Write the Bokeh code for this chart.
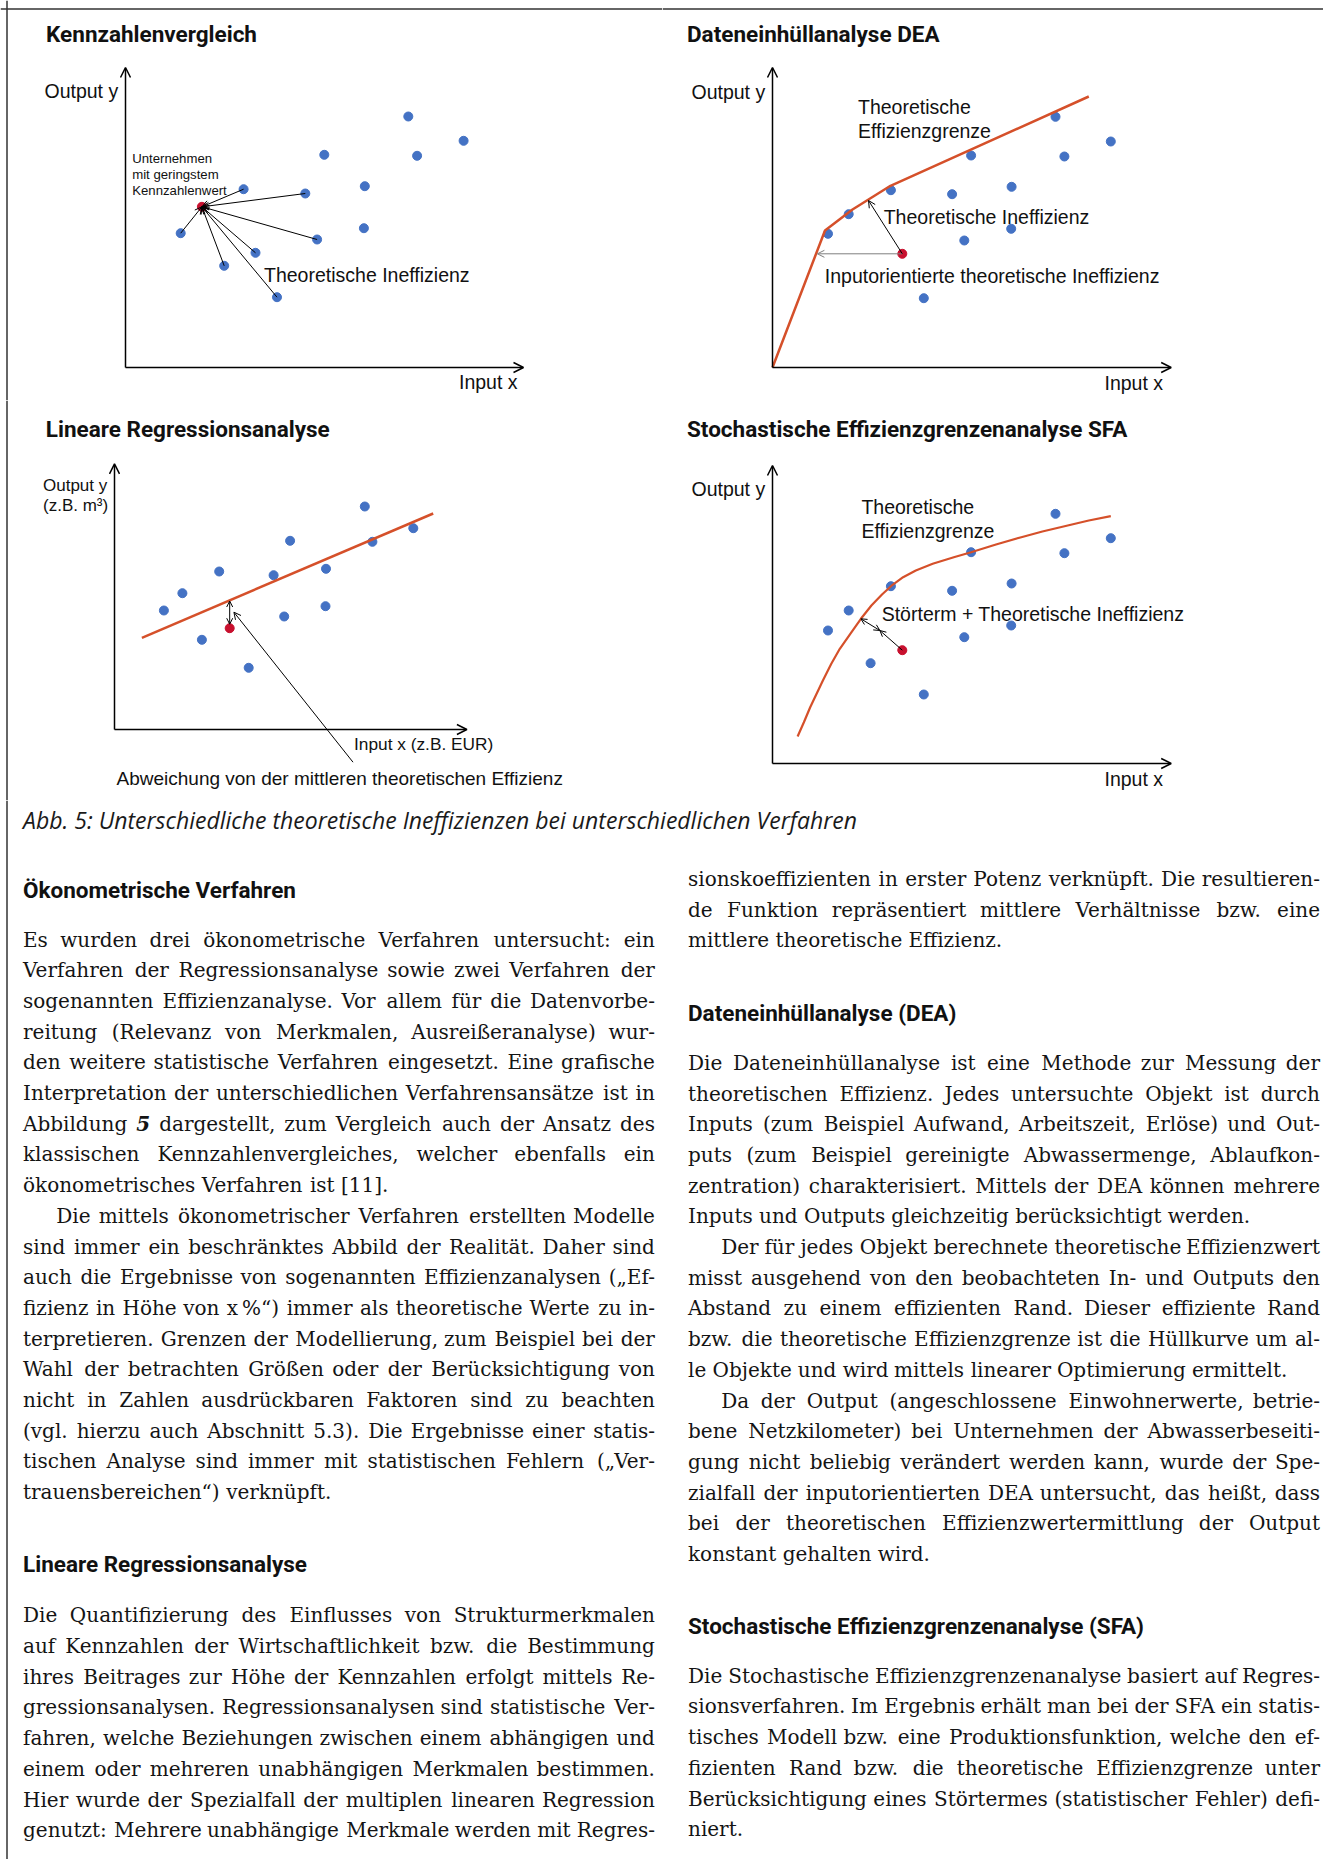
from bokeh.plotting import figure
from bokeh.layouts import column, row
from bokeh.models import Range1d, Arrow, OpenHead, ColumnDataSource, Span
from bokeh.core.properties import value
from bokeh.embed import file_html
from bokeh.resources import INLINE

# ---------------- data (arbitrary units, origin at the axis crossing) ----------------
# Panel 1: Kennzahlenvergleich
kz_x = [282.8, 338.1, 198.8, 291.6, 118.1, 179.8, 239.3, 238.4, 191.6, 130.0, 98.7, 55.2, 151.5]
kz_y = [251.0, 226.7, 212.7, 211.7, 178.3, 174.0, 181.3, 139.3, 128.0, 114.7, 101.7, 134.3, 70.3]
kz_red_x = [76.4]
kz_red_y = [160.7]
kz_arrow_from = [4, 5, 8, 9, 10, 11, 12]

# Panel 2: DEA
dea_x = [55.5, 76.2, 118.4, 179.6, 198.6, 239.1, 283.0, 291.9, 338.3, 238.7, 191.8, 151.3]
dea_y = [133.7, 153.3, 177.3, 173.3, 212.0, 180.7, 250.7, 211.0, 226.0, 138.7, 127.0, 69.3]
dea_red_x = [129.8]
dea_red_y = [113.7]
dea_front_x = [0.0, 52.5, 80.0, 118.0, 316.3]
dea_front_y = [0.0, 137.0, 158.0, 181.7, 271.0]
dea_input_target = (44.9, 113.7)
dea_radial_target = (96.0, 167.0)

# Panel 3: Lineare Regression
reg_x = [49.4, 67.9, 104.7, 87.4, 134.2, 159.1, 175.6, 169.7, 211.5, 211.0, 250.3, 257.9, 298.8]
reg_y = [119.0, 136.3, 158.0, 89.7, 61.7, 154.3, 188.7, 113.0, 160.7, 123.3, 223.0, 187.7, 201.3]
reg_red_x = [115.2]
reg_red_y = [101.3]
reg_line_x = [27.4, 318.7]
reg_line_y = [91.7, 216.0]
reg_dev = (115.2, 128.5, 105.3)          # x, y on line, y near point
reg_callout = (238.5, -32.7, 119.4, 117.3)

# Panel 4: SFA
sfa_x = [55.5, 76.2, 98.1, 118.4, 151.3, 179.6, 191.8, 198.6, 239.1, 238.7, 283.0, 291.9, 338.3]
sfa_y = [133.0, 153.0, 100.3, 177.3, 69.0, 172.7, 126.3, 211.3, 180.0, 138.0, 249.7, 210.3, 225.3]
sfa_red_x = [129.8]
sfa_red_y = [113.3]
sfa_curve_x = [25.1, 31.4, 37.7, 44.1, 50.4, 58.8, 67.3, 77.8, 88.4, 98.9, 109.5, 120.1,
               130.6, 143.3, 160.2, 181.3, 198.6, 223.5, 248.8, 269.9, 295.2, 316.3, 338.3]
sfa_curve_y = [27.0, 41.3, 56.3, 69.7, 83.0, 99.7, 114.7, 129.7, 144.7, 158.0, 169.0, 178.7,
               186.3, 193.0, 199.7, 206.3, 211.3, 219.0, 226.3, 232.0, 238.0, 243.0, 247.3]
sfa_noise = (88.4, 144.7, 107.4, 133.0)

# ---------------- texts ----------------
caption = "Abb. 5: Unterschiedliche theoretische Ineffizienzen bei unterschiedlichen Verfahren"

left_head1 = "Ökonometrische Verfahren"
left_par1 = [
    "Es wurden drei ökonometrische Verfahren untersucht: ein",
    "Verfahren der Regressionsanalyse sowie zwei Verfahren der",
    "sogenannten Effizienzanalyse. Vor allem für die Datenvorbe-",
    "reitung (Relevanz von Merkmalen, Ausreißeranalyse) wur-",
    "den weitere statistische Verfahren eingesetzt. Eine grafische",
    "Interpretation der unterschiedlichen Verfahrensansätze ist in",
    "Abbildung 5 dargestellt, zum Vergleich auch der Ansatz des",
    "klassischen Kennzahlenvergleiches, welcher ebenfalls ein",
    "ökonometrisches Verfahren ist [11].",
]
left_par2 = [
    "Die mittels ökonometrischer Verfahren erstellten Modelle",
    "sind immer ein beschränktes Abbild der Realität. Daher sind",
    "auch die Ergebnisse von sogenannten Effizienzanalysen („Ef-",
    "fizienz in Höhe von x\u2009%“) immer als theoretische Werte zu in-",
    "terpretieren. Grenzen der Modellierung, zum Beispiel bei der",
    "Wahl der betrachten Größen oder der Berücksichtigung von",
    "nicht in Zahlen ausdrückbaren Faktoren sind zu beachten",
    "(vgl. hierzu auch Abschnitt 5.3). Die Ergebnisse einer statis-",
    "tischen Analyse sind immer mit statistischen Fehlern („Ver-",
    "trauensbereichen“) verknüpft.",
]
left_head2 = "Lineare Regressionsanalyse"
left_par3 = [
    "Die Quantifizierung des Einflusses von Strukturmerkmalen",
    "auf Kennzahlen der Wirtschaftlichkeit bzw. die Bestimmung",
    "ihres Beitrages zur Höhe der Kennzahlen erfolgt mittels Re-",
    "gressionsanalysen. Regressionsanalysen sind statistische Ver-",
    "fahren, welche Beziehungen zwischen einem abhängigen und",
    "einem oder mehreren unabhängigen Merkmalen bestimmen.",
    "Hier wurde der Spezialfall der multiplen linearen Regression",
    "genutzt: Mehrere unabhängige Merkmale werden mit Regres-",
]
right_par0 = [
    "sionskoeffizienten in erster Potenz verknüpft. Die resultieren-",
    "de Funktion repräsentiert mittlere Verhältnisse bzw. eine",
    "mittlere theoretische Effizienz.",
]
right_head1 = "Dateneinhüllanalyse (DEA)"
right_par1 = [
    "Die Dateneinhüllanalyse ist eine Methode zur Messung der",
    "theoretischen Effizienz. Jedes untersuchte Objekt ist durch",
    "Inputs (zum Beispiel Aufwand, Arbeitszeit, Erlöse) und Out-",
    "puts (zum Beispiel gereinigte Abwassermenge, Ablaufkon-",
    "zentration) charakterisiert. Mittels der DEA können mehrere",
    "Inputs und Outputs gleichzeitig berücksichtigt werden.",
]
right_par2 = [
    "Der für jedes Objekt berechnete theoretische Effizienzwert",
    "misst ausgehend von den beobachteten In- und Outputs den",
    "Abstand zu einem effizienten Rand. Dieser effiziente Rand",
    "bzw. die theoretische Effizienzgrenze ist die Hüllkurve um al-",
    "le Objekte und wird mittels linearer Optimierung ermittelt.",
]
right_par3 = [
    "Da der Output (angeschlossene Einwohnerwerte, betrie-",
    "bene Netzkilometer) bei Unternehmen der Abwasserbeseiti-",
    "gung nicht beliebig verändert werden kann, wurde der Spe-",
    "zialfall der inputorientierten DEA untersucht, das heißt, dass",
    "bei der theoretischen Effizienzwertermittlung der Output",
    "konstant gehalten wird.",
]
right_head2 = "Stochastische Effizienzgrenzenanalyse (SFA)"
right_par4 = [
    "Die Stochastische Effizienzgrenzenanalyse basiert auf Regres-",
    "sionsverfahren. Im Ergebnis erhält man bei der SFA ein statis-",
    "tisches Modell bzw. eine Produktionsfunktion, welche den ef-",
    "fizienten Rand bzw. die theoretische Effizienzgrenze unter",
    "Berücksichtigung eines Störtermes (statistischer Fehler) defi-",
    "niert.",
]

# ---------------- styles ----------------
BLUE = "#4472C4"
RED = "#C8102E"
ORANGE = "#D5502A"
INK = "#111111"
FRAME = "#333333"
SANS = "Liberation Sans"
HEAD = "Roboto"
SERIF = "DejaVu Serif"
HSIZE = 22.5
LSIZE = 19.5
BORDER_X = 6.5   # page x of the left frame line
BORDER_Y = 8.5   # page y of the top frame line

# approximate advance widths of DejaVu Serif (units per em = 2048), used for justification
_ADV = {" ": 651, "a": 1221, "b": 1311, "c": 1147, "d": 1311, "e": 1212, "f": 739, "g": 1311,
        "h": 1321, "i": 655, "j": 627, "k": 1251, "l": 655, "m": 1966, "n": 1321, "o": 1233,
        "p": 1311, "q": 1311, "r": 956, "s": 1051, "t": 823, "u": 1321, "v": 1161, "w": 1686,
        "x": 1161, "y": 1161, "z": 1075, "ä": 1221, "ö": 1233, "ü": 1321, "ß": 1311,
        "A": 1479, "B": 1406, "C": 1501, "D": 1585, "E": 1403, "F": 1306, "G": 1593, "H": 1714,
        "I": 796, "J": 804, "K": 1479, "L": 1300, "M": 1918, "N": 1702, "O": 1637, "P": 1298,
        "Q": 1637, "R": 1441, "S": 1339, "T": 1298, "U": 1599, "V": 1479, "W": 2099, "X": 1470,
        "Y": 1364, "Z": 1356, "Ö": 1637, ".": 651, ",": 651, ":": 690, ";": 690, "-": 694,
        "(": 799, ")": 799, "[": 799, "]": 799, "„": 1100, "“": 1100, "%": 1946, "\u2009": 410}


def adv(s, size):
    return sum(_ADV.get(ch, 1303 if ch.isdigit() else 1200) for ch in s) / 2048.0 * size


def make_fig(w, h, xr, yr):
    p = figure(width=w, height=h, x_range=Range1d(*xr), y_range=Range1d(*yr),
               output_backend="svg", toolbar_location=None, min_border=0,
               x_axis_type=None, y_axis_type=None, outline_line_color=None,
               background_fill_color="white", border_fill_color="white", title=None)
    p.grid.visible = False
    return p


def txt(p, x, y, s, size, font=SANS, style="normal", color=INK, align="left"):
    p.text(x=[x], y=[y], text=[s], text_font=value(font), text_font_size=value(f"{size}px"),
           text_font_style=style, text_color=color, text_align=align, text_baseline="middle")


def axes(p, xlen, ylen):
    for xe, ye in [(xlen, 0), (0, ylen)]:
        p.add_layout(Arrow(end=OpenHead(size=10, line_width=1.5, line_color="black"),
                           x_start=0, y_start=0, x_end=xe, y_end=ye,
                           line_width=1.5, line_color="black"))


def arrows(p, x0, y0, x1, y1, color="black", both=False, size=7):
    src = ColumnDataSource(dict(x0=x0, y0=y0, x1=x1, y1=y1))
    kw = dict(end=OpenHead(size=size, line_width=1, line_color=color))
    if both:
        kw["start"] = OpenHead(size=size, line_width=1, line_color=color)
    p.add_layout(Arrow(source=src, x_start="x0", y_start="y0", x_end="x1", y_end="y1",
                       line_width=1, line_color=color, **kw))


def panel(left, top, w, h, ox, oy, left_border=False, top_border=False):
    """figure covering page box (left, top, w, h); data origin at page pixel (ox, oy)."""
    p = make_fig(w, h, (left - ox, left + w - ox), (oy - (top + h), oy - top))
    if left_border:
        p.add_layout(Span(location=BORDER_X - ox, dimension="height", line_color=FRAME, line_width=1.5))
    if top_border:
        p.add_layout(Span(location=oy - BORDER_Y, dimension="width", line_color=FRAME, line_width=1.5))
    return p


# ---------------- Panel 1 ----------------
p1 = panel(0, 0, 662, 400, 125, 367, left_border=True, top_border=True)
txt(p1, -79.4, 333.5, "Kennzahlenvergleich", HSIZE, HEAD, "bold")
axes(p1, 398, 300)
txt(p1, -81, 276.5, "Output y", LSIZE)
txt(p1, 333.5, -14, "Input x", LSIZE)
p1.scatter(kz_x, kz_y, size=9, color=BLUE)
arrows(p1, [kz_x[i] for i in kz_arrow_from], [kz_y[i] for i in kz_arrow_from],
       kz_red_x * len(kz_arrow_from), kz_red_y * len(kz_arrow_from))
p1.scatter(kz_red_x, kz_red_y, size=9, color=RED)
for yy, s in zip([209.0, 192.7, 177.3], ["Unternehmen", "mit geringstem", "Kennzahlenwert"]):
    txt(p1, 6.7, yy, s, 13.2)
txt(p1, 138.5, 93, "Theoretische Ineffizienz", LSIZE)

# ---------------- Panel 2 ----------------
p2 = panel(662, 0, 661, 400, 772, 367, top_border=True)
txt(p2, -85.5, 333.5, "Dateneinhüllanalyse DEA", HSIZE, HEAD, "bold")
axes(p2, 398.7, 300)
txt(p2, -81, 275.5, "Output y", LSIZE)
txt(p2, 332, -15, "Input x", LSIZE)
p2.scatter(dea_x, dea_y, size=9, color=BLUE)
p2.line(dea_front_x, dea_front_y, line_color=ORANGE, line_width=2.5)
arrows(p2, dea_red_x, dea_red_y, [dea_input_target[0]], [dea_input_target[1]], color="#7f7f7f")
arrows(p2, dea_red_x, dea_red_y, [dea_radial_target[0]], [dea_radial_target[1]])
p2.scatter(dea_red_x, dea_red_y, size=9, color=RED)
txt(p2, 85.5, 261, "Theoretische", LSIZE)
txt(p2, 85.5, 236.8, "Effizienzgrenze", LSIZE)
txt(p2, 111.2, 151, "Theoretische Ineffizienz", LSIZE)
txt(p2, 52.3, 92, "Inputorientierte theoretische Ineffizienz", LSIZE)

# ---------------- Panel 3 ----------------
p3 = panel(0, 400, 662, 400, 114, 729, left_border=True)
txt(p3, -68.7, 300.8, "Lineare Regressionsanalyse", HSIZE, HEAD, "bold")
axes(p3, 352.4, 265.7)
txt(p3, -71.5, 244.5, "Output y", 17)
txt(p3, -71.5, 224, "(z.B. m³)", 17)
txt(p3, 239.5, -14.3, "Input x (z.B. EUR)", 17.3)
txt(p3, 2, -48.5, "Abweichung von der mittleren theoretischen Effizienz", 19)
p3.scatter(reg_x, reg_y, size=9, color=BLUE)
p3.line(reg_line_x, reg_line_y, line_color=ORANGE, line_width=2.5)
arrows(p3, [reg_dev[0]], [reg_dev[1]], [reg_dev[0]], [reg_dev[2]], both=True, size=6)
arrows(p3, [reg_callout[0]], [reg_callout[1]], [reg_callout[2]], [reg_callout[3]])
p3.scatter(reg_red_x, reg_red_y, size=9, color=RED)

# ---------------- Panel 4 ----------------
p4 = panel(662, 400, 661, 400, 772, 763)
txt(p4, -85.5, 334.8, "Stochastische Effizienzgrenzenanalyse SFA", HSIZE, HEAD, "bold")
axes(p4, 398.7, 298)
txt(p4, -81, 274.7, "Output y", LSIZE)
txt(p4, 332, -15.7, "Input x", LSIZE)
p4.scatter(sfa_x, sfa_y, size=9, color=BLUE)
p4.line(sfa_curve_x, sfa_curve_y, line_color=ORANGE, line_width=2.2)
arrows(p4, [sfa_noise[2]], [sfa_noise[3]], [sfa_noise[0]], [sfa_noise[1]], both=True, size=6)
arrows(p4, sfa_red_x, sfa_red_y, [sfa_noise[2]], [sfa_noise[3]], size=6)
p4.scatter(sfa_red_x, sfa_red_y, size=9, color=RED)
txt(p4, 88.9, 256.6, "Theoretische", LSIZE)
txt(p4, 88.9, 232.7, "Effizienzgrenze", LSIZE)
txt(p4, 109.2, 149.8, "Störterm + Theoretische Ineffizienz", LSIZE)

# ---------------- Caption and body text (page pixel coordinates) ----------------
pb = make_fig(1323, 1059, (0, 1323), (1859, 800))
pb.add_layout(Span(location=BORDER_X, dimension="height", line_color=FRAME, line_width=1.5))
txt(pb, 22.5, 819, caption, 23, "Open Sans", "italic", "#1a1a1a")

BODY = 20
LH = 30.7
BODYC = "#141414"
BOLD5 = 1425 / 2048.0 * BODY

words_left = dict(x=[], y=[], text=[])
words_right = dict(x=[], y=[], text=[])
words_bold = dict(x=[], y=[], text=[])


def put(store, x, y, s):
    store["x"].append(x)
    store["y"].append(y)
    store["text"].append(s)


def set_line(x0, x1, y, line, justify):
    words = line.split(" ")
    widths = [BOLD5 if w == "5" and line.startswith("Abbildung 5 ") else adv(w, BODY) for w in words]
    sp = adv(" ", BODY)
    n = len(words)
    gap = (x1 - x0 - sum(widths)) / (n - 1) if n > 1 else 0
    if not justify or n == 1 or gap < 0.75 * sp:
        gap = sp
        justify = False
    x = x0
    for i, (w, wd) in enumerate(zip(words, widths)):
        if justify and i == n - 1:
            put(words_right, x1, y, w)
        elif w == "5" and line.startswith("Abbildung 5 "):
            put(words_bold, x, y, w)
        else:
            put(words_left, x, y, w)
        x += wd + gap


def paragraph(x0, x1, y0, lines, indent=0.0, ends=True):
    y = y0
    for i, s in enumerate(lines):
        last = ends and i == len(lines) - 1
        set_line(x0 + (indent if i == 0 else 0.0), x1, y, s, not last)
        y += LH
    return y


LX0, LX1 = 22.5, 654.4
RX0, RX1 = 687.5, 1319.5
IND = 33.2
txt(pb, LX0, 889.2, left_head1, HSIZE, HEAD, "bold")
y = paragraph(LX0, LX1, 939.0, left_par1)
paragraph(LX0, LX1, y, left_par2, IND)
txt(pb, LX0, 1563.8, left_head2, HSIZE, HEAD, "bold")
paragraph(LX0, LX1, 1614.8, left_par3, ends=False)

paragraph(RX0, RX1, 878.5, right_par0)
txt(pb, RX0, 1012.5, right_head1, HSIZE, HEAD, "bold")
y = paragraph(RX0, RX1, 1062.3, right_par1)
y = paragraph(RX0, RX1, y, right_par2, IND)
paragraph(RX0, RX1, y, right_par3, IND)
txt(pb, RX0, 1625.5, right_head2, HSIZE, HEAD, "bold")
paragraph(RX0, RX1, 1675.2, right_par4)

for store, align, style in [(words_left, "left", "normal"), (words_right, "right", "normal"),
                            (words_bold, "left", "bold italic")]:
    pb.text(x="x", y="y", text="text", source=ColumnDataSource(store),
            text_font=value(SERIF), text_font_size=value(f"{BODY}px"), text_font_style=style,
            text_color=BODYC, text_align=align, text_baseline="middle")

layout = column(row(p1, p2, spacing=0), row(p3, p4, spacing=0), pb, spacing=0)
open("out.html", "w").write(file_html(layout, INLINE))
